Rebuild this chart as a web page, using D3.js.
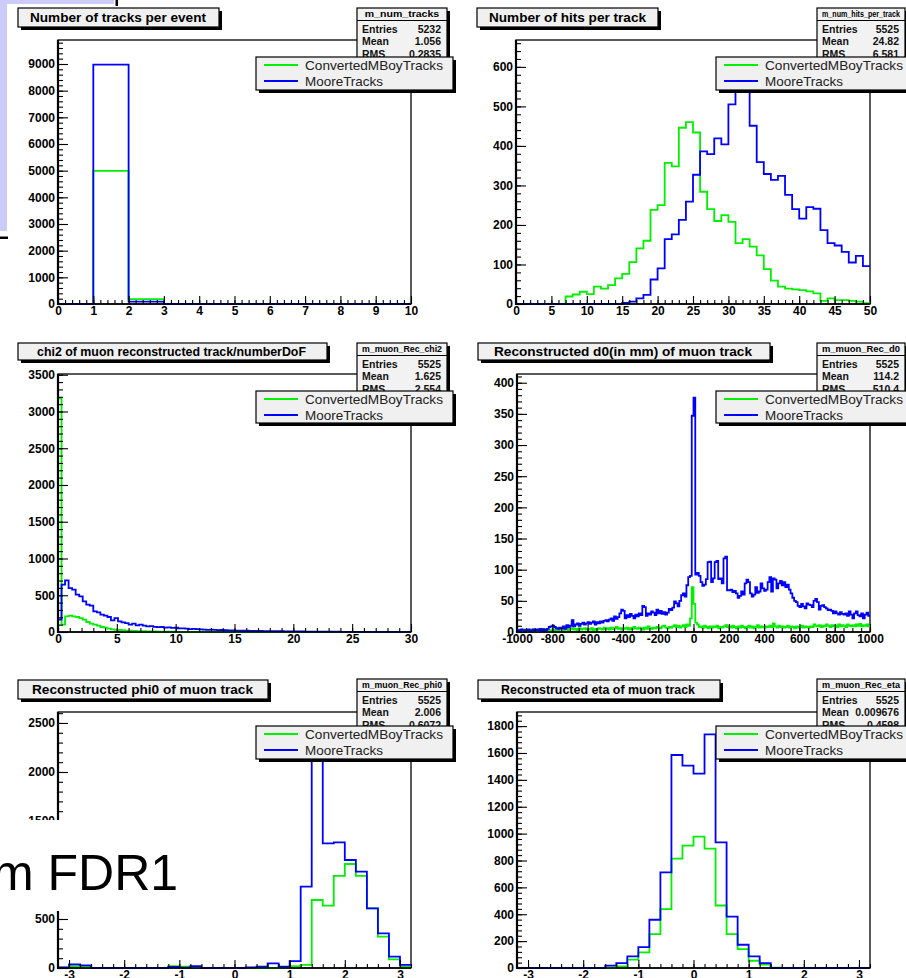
<!DOCTYPE html>
<html><head><meta charset="utf-8">
<script src="https://cdn.jsdelivr.net/npm/d3@7"></script>
<style>
body{margin:0;background:#fff;}
svg{display:block;font-family:"Liberation Sans",Arial,Helvetica,sans-serif;}
</style>
</head><body>
<svg id="c" width="906" height="978"></svg>
<script>
// ---------------- DATA ----------------
const seriesNames = ["ConvertedMBoyTracks", "MooreTracks"];
const seriesColors = ["#00f000", "#0000ff"];

const titles = [
  "Number of tracks per event",
  "Number of hits per track",
  "chi2 of muon reconstructed track/numberDoF",
  "Reconstructed d0(in mm) of muon track",
  "Reconstructed phi0 of muon track",
  "Reconstructed eta of muon track"
];
const statNames = ["m_num_tracks","m_num_hits_per_track","m_muon_Rec_chi2","m_muon_Rec_d0","m_muon_Rec_phi0","m_muon_Rec_eta"];
const statEntries = ["5232","5525","5525","5525","5525","5525"];
const statMean = ["1.056","24.82","1.625","114.2","2.006","0.009676"];
const statRMS = ["0.2835","6.581","2.554","510.4","0.6072","0.4598"];

// axis ranges [xmin,xmax], y max, major / minor tick steps
const xRanges = [[0,10],[0,50],[0,30],[-1000,1000],[-3.2,3.2],[-3.2,3.2]];
const yMaxes = [9900, 668, 3510, 414, 2612, 1905];
const xMajor = [1,5,5,200,1,1];
const xMinor = [0.2,1,1,50,0.2,0.2];
const yMajor = [1000,100,500,50,500,200];
const yMinor = [200,20,100,10,100,40];

// 1: tracks per event (10 bins)
const tracksGreen = [0,4990,180,0,0,0,0,0,0,0];
const tracksBlue  = [0,8980,90,0,0,0,0,0,0,0];

// 2: hits per track (50 bins)
const hitsGreen = [0,0,0,0,0,0,0,19,24,31,25,44,39,48,65,76,106,141,160,238,250,357,348,446,460,434,284,
  240,210,225,208,154,164,145,123,88,59,44,39,37,35,32,27,8,14,10,10,8,6,2];
const hitsBlue = [0,0,0,0,0,0,0,0,0,0,0,0,0,0,0,3,6,14,23,62,90,164,176,213,259,327,386,379,419,404,505,
  575,590,451,359,329,314,324,276,240,216,245,241,187,154,148,132,105,122,96];

// 3: chi2 / ndof (100 bins)
const chi2Green = [3180,100,213,222,213,204,190,168,136,113,100,86,68,59,45,36,30,27,24,20,
  18,15,13,11,10,9,8,7,6,5,5,4,4,3,3,3,2,2,2,2,2,1,1,1,1,1,1,1,1,1,
  0,0,0,0,0,0,0,0,0,0,0,0,0,0,0,0,0,0,0,0,0,0,0,0,0,0,0,0,0,0,
  0,0,0,0,0,0,0,0,0,0,0,0,0,0,0,0,0,0,0,0];
const chi2Blue = [170,644,703,598,576,508,485,417,372,358,281,267,236,222,204,159,190,145,131,122,
  100,113,91,100,86,77,80,70,65,68,60,62,55,58,50,48,45,40,42,38,
  35,33,30,32,28,26,27,24,22,21,20,19,17,18,16,15,14,14,13,12,
  12,11,10,10,9,9,8,8,7,7,6,6,6,5,5,5,4,4,4,4,
  3,3,3,3,2,2,2,2,2,2,1,1,1,1,1,1,1,1,1,1];

// 4: d0 (200 bins)
const d0Green = [2,3,2,4,3,2,3,2,4,3, 3,2,4,3,2,3,4,3,2,3, 4,3,5,3,4,6,3,4,5,3, 5,6,4,5,3,6,4,5,6,4,
  5,4,6,3,5,4,6,5,4,7, 5,6,4,7,5,6,8,5,6,4, 6,5,7,4,6,5,8,6,5,7, 6,4,7,5,9,6,5,7,6,8,
  7,6,9,10,7,6,8,7,9,11, 8,10,7,9,11,8,12,10,22,72, 45,15,12,8,9,7,10,8,6,9, 7,9,8,10,6,8,7,9,11,8,
  9,7,10,8,6,9,7,10,8,6, 8,10,7,9,6,8,11,7,9,8, 7,9,8,10,8,14,9,7,10,8, 9,7,8,10,7,9,8,6,9,7,
  8,10,7,9,8,7,9,8,12,10, 9,11,8,10,9,12,10,8,11,9, 10,8,12,9,11,10,8,12,10,9, 11,9,12,10,13,9,11,10,12,9];
const d0Blue = [3,2,4,3,2,3,4,2,3,4, 3,4,3,5,2,4,3,5,8,9, 10,8,6,5,7,6,9,5,11,8, 10,19,9,12,14,10,13,15,12,14,
  16,13,15,17,12,16,14,17,15,18, 19,17,20,22,18,25,21,24,30,36, 34,22,27,24,29,26,22,28,25,30,
  27,42,40,26,30,28,33,31,27,36, 30,34,29,32,28,31,37,35,39,49, 46,41,50,59,62,57,75,88,90,347,
  376,92,95,90,80,74,76,85,112,113, 80,86,112,114,85,86,78,118,121,67, 67,68,64,66,62,55,58,65,60,78,
  84,80,62,57,60,72,63,65,78,70, 66,68,80,88,65,86,84,70,78,82, 75,80,72,76,68,62,55,50,48,42,
  40,45,41,38,46,44,43,40,50,53, 48,36,42,43,40,38,35,36,34,30, 33,30,28,32,29,28,30,26,33,28,
  22,30,33,27,25,30,22,28,31,26];

// 5: phi0 (32 bins)
const phiGreen = [3,20,12,0,0,0,0,0,0,0,20,14,8,0,0,0,0,0,0,0,3,20,31,694,636,939,1061,939,609,320,88,14];
const phiBlue  = [5,37,27,0,0,0,0,0,0,0,10,4,20,0,0,0,0,7,14,48,14,71,830,2350,1272,1282,1102,983,609,354,116,31];

// 6: eta (32 bins)
const etaGreen = [0,0,0,0,0,0,0,0,2,12,62,116,252,438,814,910,977,888,465,252,141,54,25,2,0,0,0,0,0,0,0,0];
const etaBlue  = [0,0,0,0,0,0,0,0,17,37,87,156,359,712,1585,1506,1447,1738,935,383,173,87,37,0,0,0,0,0,0,0,0,0];

const greenSeries = [tracksGreen, hitsGreen, chi2Green, d0Green, phiGreen, etaGreen];
const blueSeries  = [tracksBlue, hitsBlue, chi2Blue, d0Blue, phiBlue, etaBlue];

const slideText = "m FDR1";

// ---------------- LAYOUT ----------------
const layouts = [
  {frame:[58,40,411,304],  title:[18,8,219,27],   tText:[30,206],  stats:[357,8,447],  legend:[256,57,453,90]},
  {frame:[516,40,870,304], title:[477,8,658,27],  tText:[489,646], stats:[817,8,905],  legend:[716,57,910,90]},
  {frame:[58,374,411,632], title:[18,343,327,360],tText:[37,306],  stats:[357,343,447],legend:[256,391,453,423]},
  {frame:[517,374,870,632],title:[478,343,770,360],tText:[494,752],stats:[817,343,905],legend:[716,391,910,423]},
  {frame:[58,712,411,968], title:[18,680,268,699],tText:[32,253],  stats:[357,679,447],legend:[256,726,453,759]},
  {frame:[517,712,870,968],title:[478,680,720,699],tText:[501,695],stats:[817,679,905],legend:[716,726,910,759]}
];

const svg = d3.select("#c");
const defs = svg.append("defs");

// slide decoration behind the canvas
svg.append("rect").attr("x",0).attr("y",0).attr("width",7).attr("height",231).attr("fill","#ccccfa");
svg.append("rect").attr("x",0).attr("y",0).attr("width",114).attr("height",4).attr("fill","#ccccfa");
svg.append("rect").attr("x",115.5).attr("y",0).attr("width",2.5).attr("height",6).attr("fill","#000");
svg.append("rect").attr("x",0).attr("y",236.5).attr("width",8).attr("height",2.5).attr("fill","#000");

function shadowBox(g, x0, y0, x1, y1, fill) {
  g.append("rect").attr("x", x0+3).attr("y", y0+3).attr("width", x1-x0).attr("height", y1-y0).attr("fill","#000");
  g.append("rect").attr("x", x0).attr("y", y0).attr("width", x1-x0).attr("height", y1-y0)
    .attr("fill", fill).attr("stroke","#000").attr("stroke-width",1.2);
}

function ticksIn(lo, hi, step) {
  const out = [];
  const start = Math.ceil(lo/step - 1e-9);
  for (let k = start; k*step <= hi + 1e-9; k++) out.push(+(k*step).toFixed(6));
  return out;
}

function drawPanel(i) {
  const L = layouts[i];
  const [fx0, fy0, fx1, fy1] = L.frame;
  const g = svg.append("g");
  const xr = xRanges[i];
  const x = d3.scaleLinear().domain(xr).range([fx0, fx1]);
  const y = d3.scaleLinear().domain([0, yMaxes[i]]).range([fy1, fy0]);

  // frame
  g.append("rect").attr("x",fx0).attr("y",fy0).attr("width",fx1-fx0).attr("height",fy1-fy0)
    .attr("fill","#fff").attr("stroke","#000").attr("stroke-width",1.3);

  // histograms
  const cid = "clip"+i;
  defs.append("clipPath").attr("id",cid).append("rect")
    .attr("x",fx0).attr("y",fy0).attr("width",fx1-fx0).attr("height",fy1-fy0+1);
  const hg = g.append("g").attr("clip-path",`url(#${cid})`);
  const line = d3.line().x(d => x(d[0])).y(d => y(d[1]));
  [greenSeries[i], blueSeries[i]].forEach((vals, s) => {
    const w = (xr[1]-xr[0]) / vals.length;
    const pts = [];
    vals.forEach((v, k) => { const a = xr[0] + k*w; pts.push([a, v], [a+w, v]); });
    hg.append("path").attr("d", line(pts)).attr("fill","none")
      .attr("stroke", seriesColors[s]).attr("stroke-width",1.8).attr("stroke-linejoin","miter");
  });

  // axes
  const fmt = d => String(d);
  const yMaj = ticksIn(0, yMaxes[i], yMajor[i]);
  const yMin = ticksIn(0, yMaxes[i], yMinor[i]);
  const xMaj = ticksIn(xr[0], xr[1], xMajor[i]);
  const xMin = ticksIn(xr[0], xr[1], xMinor[i]);

  const yMinorAx = g.append("g").attr("transform",`translate(${fx0},0)`)
    .call(d3.axisLeft(y).tickValues(yMin).tickSizeInner(-5).tickSizeOuter(0).tickFormat(""));
  const yMajorAx = g.append("g").attr("transform",`translate(${fx0},0)`)
    .call(d3.axisLeft(y).tickValues(yMaj).tickSizeInner(-10).tickSizeOuter(0).tickPadding(3).tickFormat(fmt));
  const xMinorAx = g.append("g").attr("transform",`translate(0,${fy1})`)
    .call(d3.axisBottom(x).tickValues(xMin).tickSizeInner(-4).tickSizeOuter(0).tickFormat(""));
  const xMajorAx = g.append("g").attr("transform",`translate(0,${fy1})`)
    .call(d3.axisBottom(x).tickValues(xMaj).tickSizeInner(-8).tickSizeOuter(0).tickPadding(2).tickFormat(fmt));
  [yMinorAx, yMajorAx, xMinorAx, xMajorAx].forEach(a => {
    a.select(".domain").remove();
    a.selectAll("line").attr("stroke","#000").attr("stroke-width",1.1);
    a.selectAll("text").attr("font-family","Liberation Sans, Arial, sans-serif")
      .attr("font-size",12).attr("font-weight","bold").attr("fill","#000");
  });
  g.append("line").attr("x1",fx0).attr("x2",fx0).attr("y1",fy0).attr("y2",fy1+1)
    .attr("stroke","#000").attr("stroke-width",2.2);
  g.append("line").attr("x1",fx0).attr("x2",fx1).attr("y1",fy1).attr("y2",fy1)
    .attr("stroke","#000").attr("stroke-width",1.4);

  // title box
  const [tx0, ty0, tx1, ty1] = L.title;
  shadowBox(g, tx0, ty0, tx1, ty1, "#f0f0f0");
  g.append("text").attr("x", L.tText[0]).attr("y", (ty0+ty1)/2 + 4.6)
    .attr("textLength", L.tText[1]-L.tText[0]).attr("lengthAdjust","spacingAndGlyphs")
    .attr("font-size",13.5).attr("font-weight","bold").attr("fill","#000").text(titles[i]);

  // stats box
  const [sx0, sy0, sx1] = L.stats;
  const sy1 = L.legend[1] + 12;
  shadowBox(g, sx0, sy0, sx1, sy1, "#f2f2f2");
  g.append("line").attr("x1",sx0).attr("x2",sx1).attr("y1",sy0+12.5).attr("y2",sy0+12.5)
    .attr("stroke","#000").attr("stroke-width",1.2);
  const hl = Math.min(statNames[i].length*6.2, sx1-sx0-10);
  g.append("text").attr("x",(sx0+sx1)/2 - hl/2).attr("y",sy0+9)
    .attr("textLength",hl).attr("lengthAdjust","spacingAndGlyphs")
    .attr("font-size",9).attr("font-weight","bold").attr("fill","#000").text(statNames[i]);
  const rows = [["Entries", statEntries[i]],["Mean", statMean[i]],["RMS", statRMS[i]]];
  rows.forEach((r, k) => {
    const cy = sy0 + 21 + k*12.5 + 3.7;
    g.append("text").attr("x", sx0+5).attr("y", cy).attr("font-size",10.5).attr("font-weight","bold")
      .attr("fill","#111").text(r[0]);
    g.append("text").attr("x", sx1-6).attr("y", cy).attr("text-anchor","end").attr("font-size",10.5)
      .attr("font-weight","bold").attr("fill","#111").text(r[1]);
  });

  // legend
  const [lx0, ly0, lx1, ly1] = L.legend;
  shadowBox(g, lx0, ly0, lx1, ly1, "#f0f0f0");
  seriesNames.forEach((nm, s) => {
    const cy = ly0 + 8 + s*16;
    g.append("line").attr("x1", lx0+8).attr("x2", lx0+42).attr("y1", cy).attr("y2", cy)
      .attr("stroke", seriesColors[s]).attr("stroke-width",2);
    g.append("text").attr("x", lx0+49).attr("y", cy+4.5)
      .attr("textLength", s === 0 ? 138 : 78).attr("lengthAdjust","spacingAndGlyphs")
      .attr("font-size",13).attr("fill","#222").text(nm);
  });
}

for (let i = 0; i < 6; i++) drawPanel(i);

// slide title text box overlapping the lower-left panel
svg.append("rect").attr("x",0).attr("y",820).attr("width",250).attr("height",91).attr("fill","#fff");
svg.append("text").attr("x",-8).attr("y",890).attr("font-size",50).attr("fill","#000").text(slideText);
</script>
</body></html>
